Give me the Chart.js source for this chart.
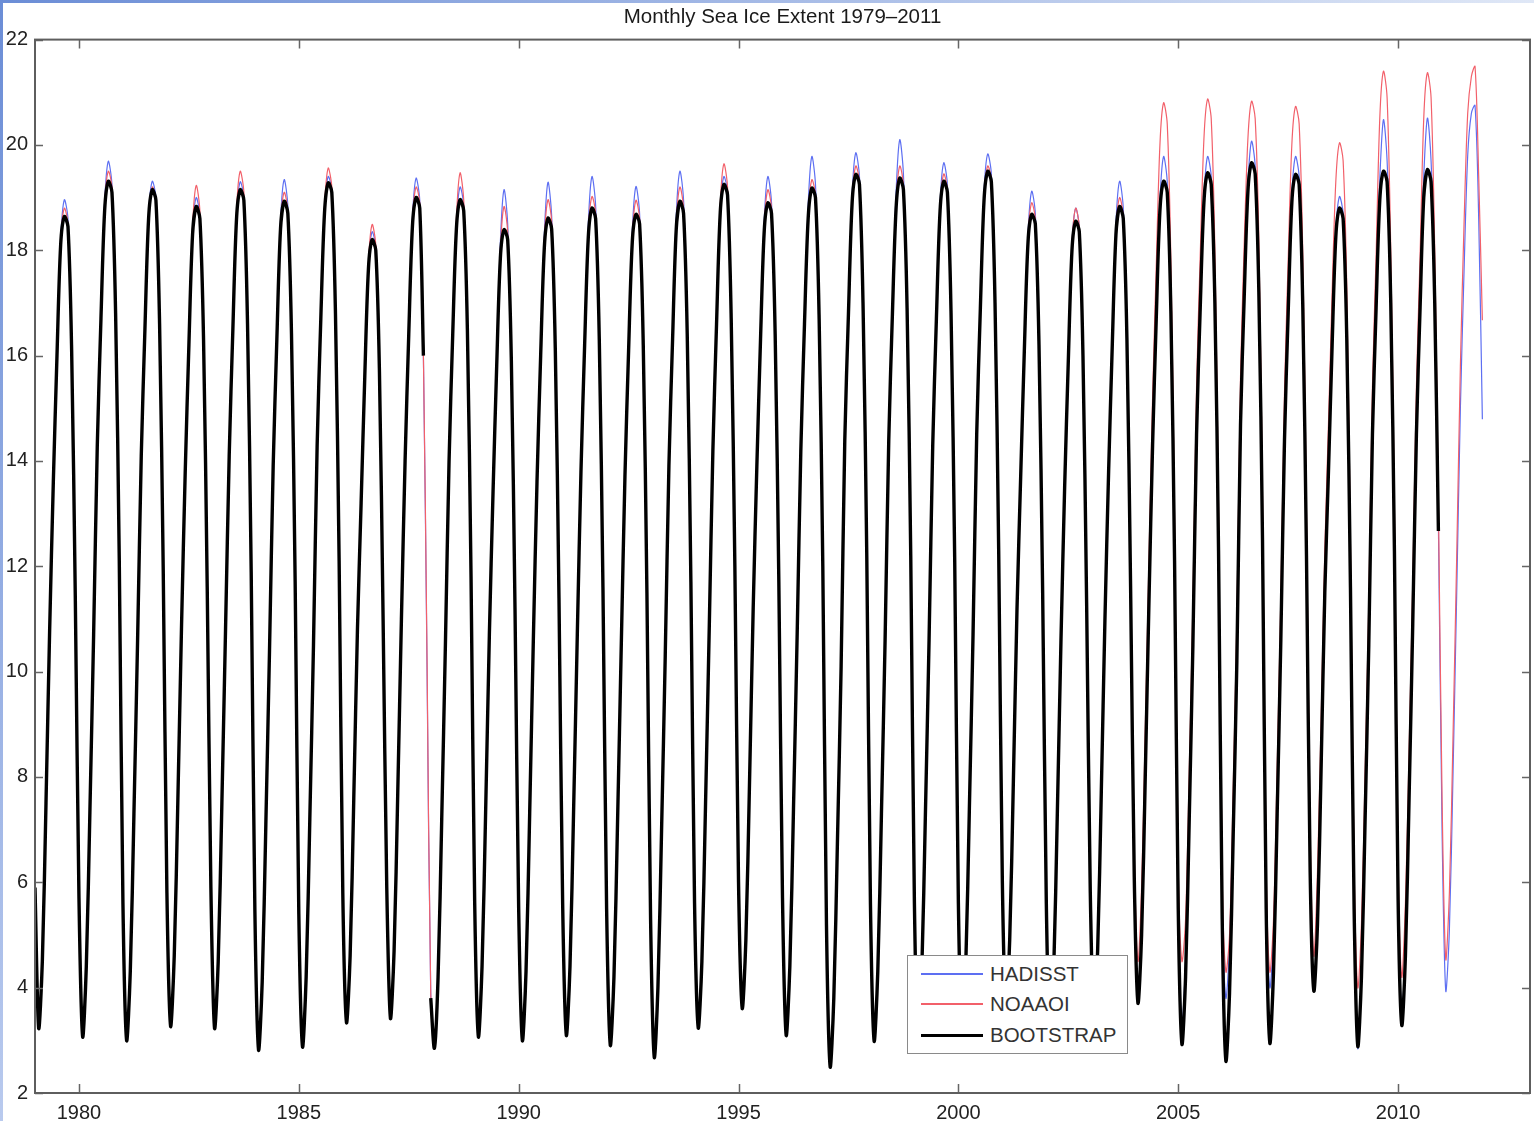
<!DOCTYPE html>
<html>
<head>
<meta charset="utf-8">
<title>Monthly Sea Ice Extent 1979–2011</title>
<script src="https://cdn.jsdelivr.net/npm/chart.js@4.4.1/dist/chart.umd.min.js"></script>
<style>
    html, body { margin: 0; padding: 0; background: #fff; }
    #wrap { position: relative; width: 1534px; height: 1121px; overflow: hidden; }
    .edge-top { position: absolute; left: 0; top: 0; width: 1534px; height: 3px; background: linear-gradient(to right, #6b8dd6, #dfe7f6); }
    .edge-left { position: absolute; left: 0; top: 0; width: 3px; height: 1121px; background: linear-gradient(to bottom, #6b8dd6, #b9caee); }
    #legend {
        position: absolute; left: 907px; top: 955px; width: 219px; height: 97px;
        border: 1.5px solid #8a8a8a; background: #fff;
        font-family: "Liberation Sans", Arial, sans-serif; font-size: 20.5px; color: #333;
    }
    #legend .row { position: absolute; left: 0; width: 100%; height: 24px; line-height: 24px; }
    #legend .swatch { position: absolute; left: 13px; width: 62px; }
    #legend .label { position: absolute; left: 82px; top: 0; white-space: nowrap; }
</style>
</head>
<body>
<div id="wrap">
    <canvas id="grafico" width="1534" height="1121"></canvas>
    <div class="edge-top"></div>
    <div class="edge-left"></div>
    <div id="legend"></div>
</div>
<script>
// Dados: um valor por mês (jan..dez), 1979-2011
const anoInicial = 1979;
const ticksAnos = [1980, 1985, 1990, 1995, 2000, 2005, 2010];
const ticksY = [2, 4, 6, 8, 10, 12, 14, 16, 18, 20, 22];
const nomesSeries = ['HADISST', 'NOAAOI', 'BOOTSTRAP'];
const coresSeries = ['#5d6ff2', '#f2606a', '#000000'];

const hadisst = [
    5.9, 3.23, 4.5, 7.5, 10.8, 13.6, 16.0, 18.2, 18.96, 18.6, 16.1, 11.4,    // 1979
    5.7, 3.07, 4.4, 7.4, 10.7, 14.3, 16.7, 18.9, 19.69, 19.25, 16.8, 12.1,   // 1980
    5.6, 3.00, 4.3, 7.3, 10.6, 14.1, 16.5, 18.65, 19.31, 19.0, 16.6, 11.9,
    5.8, 3.27, 4.6, 7.6, 10.9, 13.8, 16.2, 18.35, 19.00, 18.65, 16.3, 11.6,
    5.9, 3.23, 4.5, 7.5, 10.8, 14.1, 16.5, 18.65, 19.30, 19.0, 16.6, 11.9,
    5.5, 2.82, 4.1, 7.1, 10.4, 13.9, 16.3, 18.55, 19.34, 18.85, 16.4, 11.7,
    5.4, 2.88, 4.2, 7.2, 10.5, 14.3, 16.7, 18.75, 19.40, 19.15, 16.8, 12.1,  // 1985
    5.8, 3.34, 4.6, 7.6, 10.8, 13.2, 15.6, 17.7, 18.35, 18.05, 15.7, 11.0,
    5.9, 3.42, 4.7, 7.7, 11.0, 14.0, 16.4, 18.6, 19.37, 18.95, 16.0, 10.0,
    3.9, 2.85, 4.2, 7.2, 10.5, 14.0, 16.4, 18.5, 19.20, 18.85, 16.5, 11.8,
    5.6, 3.07, 4.4, 7.4, 10.7, 13.4, 15.8, 18.15, 19.15, 18.5, 15.9, 11.2,
    5.5, 3.00, 4.3, 7.3, 10.6, 13.6, 16.0, 18.3, 19.29, 18.65, 16.1, 11.4,   // 1990
    5.6, 3.10, 4.4, 7.4, 10.7, 13.8, 16.2, 18.5, 19.40, 18.85, 16.3, 11.6,
    5.5, 2.91, 4.2, 7.2, 10.5, 13.7, 16.1, 18.35, 19.21, 18.7, 16.2, 11.5,
    5.3, 2.68, 4.0, 7.0, 10.3, 13.9, 16.3, 18.65, 19.50, 18.95, 16.4, 11.7,
    5.6, 3.24, 4.5, 7.5, 10.8, 14.2, 16.6, 18.75, 19.40, 19.1, 16.7, 12.0,
    6.0, 3.61, 4.9, 7.9, 11.2, 13.9, 16.3, 18.55, 19.40, 18.9, 16.4, 11.7,   // 1995
    5.7, 3.10, 4.4, 7.4, 10.7, 14.2, 16.6, 18.85, 19.78, 19.25, 16.7, 12.0,
    5.2, 2.50, 3.8, 6.8, 10.1, 14.4, 16.8, 19.05, 19.85, 19.4, 16.9, 12.2,
    5.6, 2.99, 4.3, 7.3, 10.6, 14.4, 16.8, 19.1, 20.10, 19.45, 16.9, 12.2,
    5.6, 3.00, 4.3, 7.3, 10.6, 14.3, 16.7, 18.9, 19.66, 19.25, 16.8, 12.1,
    5.6, 3.10, 4.4, 7.4, 10.7, 14.5, 16.9, 19.1, 19.83, 19.45, 17.0, 12.3,   // 2000
    6.0, 3.60, 4.9, 7.9, 11.2, 13.7, 16.1, 18.3, 19.12, 18.7, 16.2, 11.5,
    5.6, 3.00, 4.3, 7.3, 10.6, 13.5, 15.9, 18.1, 18.80, 18.45, 16.0, 11.3,
    5.8, 3.40, 4.7, 7.7, 11.0, 13.8, 16.2, 18.5, 19.31, 18.8, 16.3, 11.6,
    6.1, 3.71, 5.0, 8.0, 11.3, 14.4, 16.9, 18.95, 19.78, 19.3, 16.9, 12.1,
    5.7, 3.30, 4.5, 7.4, 10.6, 14.6, 17.1, 19.0, 19.78, 19.4, 17.1, 12.3,    // 2005
    5.7, 3.80, 4.8, 7.4, 10.5, 14.9, 17.4, 19.25, 20.07, 19.6, 17.3, 12.5,
    5.9, 4.00, 5.0, 7.7, 10.8, 14.6, 17.0, 19.05, 19.78, 19.4, 17.0, 12.2,
    6.4, 4.00, 5.3, 8.3, 11.6, 13.9, 16.3, 18.35, 19.02, 18.7, 16.4, 11.6,
    5.5, 2.85, 4.2, 7.3, 10.7, 14.8, 17.4, 19.35, 20.48, 19.7, 17.3, 12.3,
    6.0, 3.50, 4.8, 7.8, 11.2, 14.9, 17.4, 19.4, 20.51, 19.7, 17.3, 12.8,    // 2010
    7.0, 3.94, 5.1, 8.1, 11.5, 15.0, 17.6, 19.8, 20.60, 20.75, 18.6, 14.79   // 2011
];

const noaaoi = [
    5.9, 3.23, 4.5, 7.5, 10.8, 13.6, 16.0, 18.15, 18.80, 18.5, 16.1, 11.4,   // 1979
    5.7, 3.07, 4.4, 7.4, 10.7, 14.3, 16.7, 18.85, 19.50, 19.2, 16.8, 12.1,   // 1980
    5.6, 3.00, 4.3, 7.3, 10.6, 14.1, 16.5, 18.6, 19.20, 18.95, 16.6, 11.9,
    5.8, 3.27, 4.6, 7.6, 10.9, 13.8, 16.2, 18.45, 19.23, 18.75, 16.3, 11.6,
    5.9, 3.23, 4.5, 7.5, 10.8, 14.1, 16.5, 18.75, 19.50, 19.1, 16.6, 11.9,
    5.5, 2.82, 4.1, 7.1, 10.4, 13.9, 16.3, 18.45, 19.10, 18.75, 16.4, 11.7,
    5.4, 2.88, 4.2, 7.2, 10.5, 14.3, 16.7, 18.8, 19.56, 19.2, 16.8, 12.1,    // 1985
    5.8, 3.34, 4.6, 7.6, 10.8, 13.2, 15.6, 17.75, 18.49, 18.1, 15.7, 11.0,
    5.9, 3.42, 4.7, 7.7, 11.0, 14.0, 16.4, 18.55, 19.20, 18.9, 16.0, 10.2,
    3.9, 2.85, 4.2, 7.2, 10.5, 14.0, 16.4, 18.6, 19.47, 18.95, 16.5, 11.8,
    5.6, 3.07, 4.4, 7.4, 10.7, 13.4, 15.8, 18.0, 18.83, 18.35, 15.9, 11.2,
    5.5, 3.00, 4.3, 7.3, 10.6, 13.6, 16.0, 18.2, 18.96, 18.55, 16.1, 11.4,   // 1990
    5.6, 3.10, 4.4, 7.4, 10.7, 13.8, 16.2, 18.35, 19.02, 18.7, 16.3, 11.6,
    5.5, 2.91, 4.2, 7.2, 10.5, 13.7, 16.1, 18.25, 18.95, 18.6, 16.2, 11.5,
    5.3, 2.68, 4.0, 7.0, 10.3, 13.9, 16.3, 18.5, 19.20, 18.8, 16.4, 11.7,
    5.6, 3.24, 4.5, 7.5, 10.8, 14.2, 16.6, 18.85, 19.64, 19.2, 16.7, 12.0,
    6.0, 3.61, 4.9, 7.9, 11.2, 13.9, 16.3, 18.45, 19.15, 18.8, 16.4, 11.7,   // 1995
    5.7, 3.10, 4.4, 7.4, 10.7, 14.2, 16.6, 18.65, 19.34, 19.05, 16.7, 12.0,
    5.2, 2.50, 3.8, 6.8, 10.1, 14.4, 16.8, 18.95, 19.60, 19.3, 16.9, 12.2,
    5.6, 2.99, 4.3, 7.3, 10.6, 14.4, 16.8, 18.9, 19.60, 19.25, 16.9, 12.2,
    5.6, 3.00, 4.3, 7.3, 10.6, 14.3, 16.7, 18.8, 19.45, 19.15, 16.8, 12.1,
    5.6, 3.10, 4.4, 7.4, 10.7, 14.5, 16.9, 19.0, 19.60, 19.35, 17.0, 12.3,   // 2000
    6.0, 3.60, 4.9, 7.9, 11.2, 13.7, 16.1, 18.25, 18.90, 18.6, 16.2, 11.5,
    5.6, 3.00, 4.3, 7.3, 10.6, 13.5, 15.9, 18.1, 18.80, 18.45, 16.0, 11.3,
    5.8, 3.40, 4.7, 7.7, 11.0, 13.8, 16.2, 18.35, 19.00, 18.65, 16.3, 11.6,
    6.6, 4.50, 5.9, 8.9, 12.1, 15.2, 17.7, 20.0, 20.80, 20.4, 17.8, 12.9,
    6.3, 4.50, 5.3, 8.1, 11.3, 15.4, 17.9, 20.1, 20.87, 20.5, 18.0, 13.1,    // 2005
    6.1, 4.30, 5.0, 7.8, 11.0, 15.6, 18.1, 20.1, 20.83, 20.5, 18.2, 13.3,
    6.3, 4.30, 5.3, 8.2, 11.4, 15.3, 17.8, 20.0, 20.73, 20.4, 17.9, 13.0,
    7.0, 4.60, 6.2, 9.1, 12.3, 14.7, 17.2, 19.3, 20.04, 19.7, 17.3, 12.4,
    6.3, 4.00, 5.2, 8.1, 11.3, 15.4, 17.9, 20.5, 21.40, 20.9, 18.0, 13.1,
    6.5, 4.20, 5.6, 8.5, 11.7, 15.4, 17.9, 20.5, 21.37, 20.9, 18.0, 13.2,    // 2010
    7.6, 4.54, 5.8, 8.8, 12.2, 15.8, 18.5, 20.6, 21.30, 21.49, 19.4, 16.67   // 2011
];

const bootstrap = [
    5.9, 3.23, 4.5, 7.5, 10.8, 13.6, 16.0, 18.1, 18.64, 18.45, 16.1, 11.4,   // 1979
    5.7, 3.07, 4.4, 7.4, 10.7, 14.3, 16.7, 18.75, 19.31, 19.1, 16.8, 12.1,   // 1980
    5.6, 3.00, 4.3, 7.3, 10.6, 14.1, 16.5, 18.6, 19.15, 18.95, 16.6, 11.9,
    5.8, 3.27, 4.6, 7.6, 10.9, 13.8, 16.2, 18.3, 18.83, 18.6, 16.3, 11.6,
    5.9, 3.23, 4.5, 7.5, 10.8, 14.1, 16.5, 18.6, 19.15, 18.95, 16.6, 11.9,
    5.5, 2.82, 4.1, 7.1, 10.4, 13.9, 16.3, 18.4, 18.93, 18.7, 16.4, 11.7,
    5.4, 2.88, 4.2, 7.2, 10.5, 14.3, 16.7, 18.7, 19.28, 19.1, 16.8, 12.1,    // 1985
    5.8, 3.34, 4.6, 7.6, 10.8, 13.2, 15.6, 17.65, 18.20, 18.0, 15.7, 11.0,
    5.9, 3.42, 4.7, 7.7, 11.0, 14.0, 16.4, 18.45, 19.00, 18.8, 16.0, null,
    3.8, 2.85, 4.2, 7.2, 10.5, 14.0, 16.4, 18.4, 18.96, 18.75, 16.5, 11.8,
    5.6, 3.07, 4.4, 7.4, 10.7, 13.4, 15.8, 17.85, 18.39, 18.2, 15.9, 11.2,
    5.5, 3.00, 4.3, 7.3, 10.6, 13.6, 16.0, 18.05, 18.61, 18.4, 16.1, 11.4,   // 1990
    5.6, 3.10, 4.4, 7.4, 10.7, 13.8, 16.2, 18.25, 18.80, 18.6, 16.3, 11.6,
    5.5, 2.91, 4.2, 7.2, 10.5, 13.7, 16.1, 18.15, 18.68, 18.5, 16.2, 11.5,
    5.3, 2.68, 4.0, 7.0, 10.3, 13.9, 16.3, 18.4, 18.93, 18.7, 16.4, 11.7,
    5.6, 3.24, 4.5, 7.5, 10.8, 14.2, 16.6, 18.7, 19.25, 19.05, 16.7, 12.0,
    6.0, 3.61, 4.9, 7.9, 11.2, 13.9, 16.3, 18.35, 18.90, 18.7, 16.4, 11.7,   // 1995
    5.7, 3.10, 4.4, 7.4, 10.7, 14.2, 16.6, 18.6, 19.18, 19.0, 16.7, 12.0,
    5.2, 2.50, 3.8, 6.8, 10.1, 14.4, 16.8, 18.9, 19.44, 19.25, 16.9, 12.2,
    5.6, 2.99, 4.3, 7.3, 10.6, 14.4, 16.8, 18.8, 19.37, 19.15, 16.9, 12.2,
    5.6, 3.00, 4.3, 7.3, 10.6, 14.3, 16.7, 18.75, 19.31, 19.1, 16.8, 12.1,
    5.6, 3.10, 4.4, 7.4, 10.7, 14.5, 16.9, 18.95, 19.50, 19.3, 17.0, 12.3,   // 2000
    6.0, 3.60, 4.9, 7.9, 11.2, 13.7, 16.1, 18.15, 18.68, 18.5, 16.2, 11.5,
    5.6, 3.00, 4.3, 7.3, 10.6, 13.5, 15.9, 18.0, 18.55, 18.35, 16.0, 11.3,
    5.8, 3.40, 4.7, 7.7, 11.0, 13.8, 16.2, 18.3, 18.83, 18.6, 16.3, 11.6,
    6.1, 3.71, 5.0, 8.0, 11.3, 14.3, 16.7, 18.75, 19.31, 19.1, 16.8, 12.1,
    5.5, 2.93, 4.2, 7.2, 10.5, 14.5, 16.9, 18.9, 19.47, 19.25, 17.0, 12.3,   // 2005
    5.3, 2.61, 3.9, 6.9, 10.2, 14.7, 17.1, 19.1, 19.66, 19.45, 17.2, 12.5,
    5.5, 2.95, 4.3, 7.3, 10.6, 14.4, 16.8, 18.9, 19.44, 19.25, 16.9, 12.2,
    6.2, 3.94, 5.2, 8.2, 11.5, 13.8, 16.2, 18.25, 18.80, 18.6, 16.3, 11.6,
    5.5, 2.89, 4.2, 7.2, 10.5, 14.5, 16.9, 18.95, 19.50, 19.3, 17.0, 12.3,
    5.7, 3.29, 4.6, 7.6, 10.9, 14.5, 16.9, 19.0, 19.53, 19.3, 17.0, 12.67,   // 2010
    null, null, null, null, null, null, null, null, null, null, null, null   // 2011
];

const fonte = '"Liberation Sans", Arial, Helvetica, sans-serif';

// converte a série mensal em pontos {x: ano decimal, y}
function paraPontos(valores) {
    return valores.map((v, i) => ({ x: anoInicial + i / 12, y: v }));
}

// moldura estilo MATLAB com ticks para dentro
const moldura = {
    id: 'moldura',
    afterDatasetsDraw(chart) {
        const { ctx, chartArea: a, scales } = chart;
        ctx.save();
        ctx.strokeStyle = '#666';
        ctx.lineWidth = 1.5;
        ctx.beginPath();
        ticksAnos.forEach(v => {
            const px = Math.round(scales.x.getPixelForValue(v)) + 0.5;
            ctx.moveTo(px, a.bottom); ctx.lineTo(px, a.bottom - 9);
            ctx.moveTo(px, a.top); ctx.lineTo(px, a.top + 9);
        });
        ticksY.forEach(v => {
            const py = Math.round(scales.y.getPixelForValue(v)) + 0.5;
            ctx.moveTo(a.left, py); ctx.lineTo(a.left + 8, py);
            ctx.moveTo(a.right, py); ctx.lineTo(a.right - 8, py);
        });
        ctx.stroke();
        ctx.lineWidth = 2;
        ctx.strokeStyle = '#5e5e5e';
        ctx.strokeRect(a.left, a.top, a.right - a.left, a.bottom - a.top);
        ctx.restore();
    }
};

const series = [hadisst, noaaoi, bootstrap];
const larguras = [1.2, 1.2, 3.4];
const ordem = [2, 1, 0]; // bootstrap por cima

new Chart(document.getElementById('grafico'), {
    type: 'line',
    data: {
        datasets: series.map((s, i) => ({
            label: nomesSeries[i],
            data: paraPontos(s),
            borderColor: coresSeries[i],
            borderWidth: larguras[i],
            borderJoinStyle: 'round',
            pointRadius: 0,
            tension: 0.3,
            spanGaps: false,
            fill: false,
            order: ordem[i]
        }))
    },
    options: {
        responsive: false,
        animation: false,
        events: [],
        layout: { padding: { left: 0, right: 4, top: 0, bottom: 0 } },
        scales: {
            x: {
                type: 'linear',
                min: 1979,
                max: 2013,
                grid: { display: false, drawTicks: false },
                border: { display: false },
                afterBuildTicks: (scale) => { scale.ticks = ticksAnos.map(v => ({ value: v })); },
                afterFit: (scale) => { scale.height = 28; },
                ticks: {
                    padding: 8,
                    maxRotation: 0,
                    color: '#222',
                    font: { family: fonte, size: 20 },
                    callback: (v) => String(v)
                }
            },
            y: {
                min: 2,
                max: 22,
                grid: { display: false, drawTicks: false },
                border: { display: false },
                afterBuildTicks: (scale) => { scale.ticks = ticksY.map(v => ({ value: v })); },
                afterFit: (scale) => { scale.width = 35; },
                ticks: {
                    padding: 7,
                    color: '#222',
                    font: { family: fonte, size: 20 }
                }
            }
        },
        plugins: {
            legend: { display: false },
            tooltip: { enabled: false },
            title: {
                display: true,
                text: 'Monthly Sea Ice Extent 1979–2011',
                fullSize: false,
                color: '#1a1a1a',
                font: { family: fonte, size: 20.5, weight: 'normal' },
                padding: { top: 5, bottom: 10 }
            }
        }
    },
    plugins: [moldura]
});

// legenda dentro do eixo, como no original
const legenda = document.getElementById('legend');
const topos = [6, 36, 67];
const espessuras = [1.5, 1.5, 3];
legenda.innerHTML = nomesSeries.map((n, i) => `
    <div class="row" style="top:${topos[i]}px;">
        <div class="swatch" style="top:${12 - espessuras[i] / 2}px; height:${espessuras[i]}px; background:${coresSeries[i]};"></div>
        <span class="label">${n}</span>
    </div>`).join('');
</script>
</body>
</html>
